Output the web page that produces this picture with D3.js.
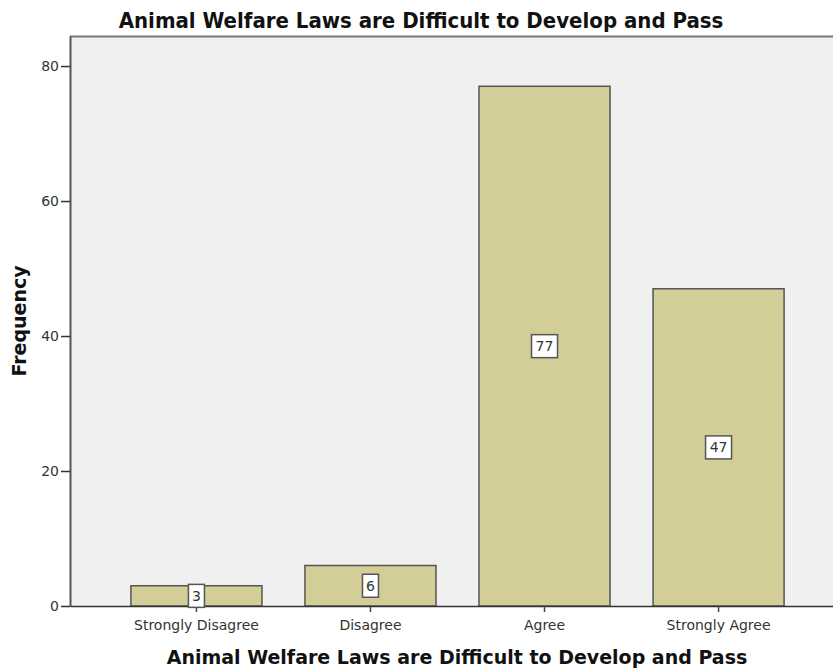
<!DOCTYPE html>
<html>
<head>
<meta charset="utf-8">
<script src="https://cdn.jsdelivr.net/npm/d3@7"></script>
<style>
  body { margin: 0; background: #fff; }
  text { font-family: "DejaVu Sans", sans-serif; }
</style>
</head>
<body>
<div id="chart"></div>
<script>
var categories = ["Strongly Disagree", "Disagree", "Agree", "Strongly Agree"];
var counts = [3, 6, 77, 47];
var yTicks = [0, 20, 40, 60, 80];
var titleText = "Animal Welfare Laws are Difficult to Develop and Pass";

var width = 833,
    height = 669,
    margin = {top: 36, left: 70, bottom: 63};

var svg = d3.select("#chart")
  .append("svg")
  .attr("width", width)
  .attr("height", height);

var plotBottom = height - margin.bottom;

var xScale = d3.scaleBand()
  .domain(categories)
  .range([margin.left, 845])
  .paddingInner(0.247)
  .paddingOuter(0.35);

var yScale = d3.scaleLinear()
  .domain([0, 84.45])
  .range([plotBottom, margin.top]);

// plot background
svg.append("rect")
  .attr("x", margin.left)
  .attr("y", margin.top)
  .attr("width", 845 - margin.left)
  .attr("height", plotBottom - margin.top)
  .style("fill", "#f0f0f0");

// top frame line
svg.append("line")
  .attr("x1", margin.left).attr("x2", 845)
  .attr("y1", margin.top + 0.5).attr("y2", margin.top + 0.5)
  .style("stroke", "#777").style("stroke-width", 2);

// bars
svg.selectAll(".bar")
  .data(counts)
  .enter().append("rect")
  .attr("class", "bar")
  .attr("x", (d, i) => xScale(categories[i]))
  .attr("y", d => yScale(d))
  .attr("width", xScale.bandwidth())
  .attr("height", d => plotBottom - yScale(d))
  .style("fill", "#d3ce98")
  .style("stroke", "#555")
  .style("stroke-width", 1.5);

// y axis
var yAxis = d3.axisLeft(yScale).tickValues(yTicks).tickSize(9).tickSizeOuter(0).tickPadding(2);
var gy = svg.append("g")
  .attr("transform", `translate(${margin.left},0)`)
  .call(yAxis);
gy.select(".domain").style("stroke", "#555").style("stroke-width", 2);
gy.selectAll(".tick line").style("stroke", "#333").style("stroke-width", 1.5);
gy.selectAll(".tick text").style("font-size", "14px").style("fill", "#333");

// x axis
var xAxis = d3.axisBottom(xScale).tickSize(6).tickSizeOuter(0).tickPadding(8);
var gx = svg.append("g")
  .attr("transform", `translate(0,${plotBottom})`)
  .call(xAxis);
gx.select(".domain").style("stroke", "#333").style("stroke-width", 1.5);
gx.selectAll(".tick line").style("stroke", "#444").style("stroke-width", 1.5);
gx.selectAll(".tick text").style("font-size", "14px").style("fill", "#333");

// value labels
var labels = svg.selectAll(".vlabel")
  .data(counts)
  .enter().append("g")
  .attr("class", "vlabel")
  .attr("transform", (d, i) => `translate(${xScale(categories[i]) + xScale.bandwidth() / 2},${(yScale(d) + plotBottom) / 2})`);

labels.append("rect")
  .attr("x", d => -(String(d).length * 10 + 6) / 2)
  .attr("y", -11.5)
  .attr("width", d => String(d).length * 10 + 6)
  .attr("height", 23)
  .style("fill", "#fff")
  .style("stroke", "#555")
  .style("stroke-width", 1.5);

labels.append("text")
  .attr("text-anchor", "middle")
  .attr("dy", "0.36em")
  .style("font-size", "14px")
  .style("fill", "#333")
  .text(d => d);

// titles
svg.append("text")
  .attr("x", 421)
  .attr("y", 28)
  .attr("text-anchor", "middle")
  .style("font-family", "'DejaVu Sans Condensed', sans-serif")
  .style("font-weight", "bold")
  .style("font-size", "22px")
  .style("fill", "#111")
  .text(titleText);

svg.append("text")
  .attr("x", 457)
  .attr("y", 664)
  .attr("text-anchor", "middle")
  .style("font-weight", "bold")
  .style("font-size", "19px")
  .style("fill", "#111")
  .text(titleText);

svg.append("text")
  .attr("transform", `translate(26,${(margin.top + plotBottom) / 2}) rotate(-90)`)
  .attr("text-anchor", "middle")
  .style("font-weight", "bold")
  .style("font-size", "19px")
  .style("fill", "#111")
  .text("Frequency");
</script>
</body>
</html>
